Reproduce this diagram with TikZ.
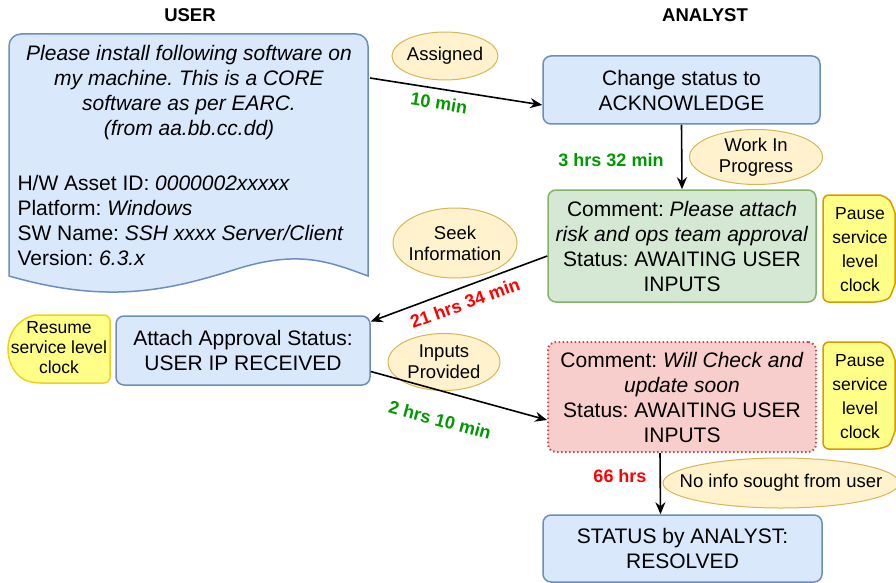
\documentclass[tikz,border=0pt]{standalone}
\usepackage{fontspec}
\setmainfont{Liberation Sans}
\usetikzlibrary{shapes.geometric,arrows.meta,calc}
\definecolor{lblue}{HTML}{DAE8FC}
\definecolor{bblue}{HTML}{6C8EBF}
\definecolor{lgreen}{HTML}{D5E8D4}
\definecolor{bgreen}{HTML}{82B366}
\definecolor{lred}{HTML}{F8CECC}
\definecolor{bred}{HTML}{B85450}
\definecolor{ellfill}{HTML}{FFF2CC}
\definecolor{ellstroke}{HTML}{D6B656}
\definecolor{yfill}{HTML}{FFFF88}
\definecolor{ystroke}{HTML}{D79B00}
\definecolor{ystroke2}{HTML}{EED21E}
\definecolor{tgreen}{HTML}{009900}
\definecolor{tred}{HTML}{FF0000}
\frenchspacing
\newcommand{\bigtxt}{\fontsize{21}{25}\selectfont}
\newcommand{\midtxt}{\fontsize{18.5}{21}\selectfont}
\newcommand{\smalltxt}{\fontsize{17.5}{24}\selectfont}
\newcommand{\smalltxtb}{\fontsize{17.5}{20}\selectfont}
\newcommand{\lbltxt}{\fontsize{18}{20}\selectfont\bfseries}
\tikzset{
  box/.style={draw=bblue, fill=lblue, rounded corners=8pt, line width=1.5pt, align=center, font=\bigtxt, inner sep=0pt},
  ell/.style={ellipse, draw=ellstroke, fill=ellfill, line width=1pt, inner sep=0pt},
  elltxt/.style={font=\midtxt, align=center, inner sep=0pt},
  conn/.style={-{Stealth[length=12pt,width=10pt]}, line width=1.6pt, black},
  glbl/.style={font=\lbltxt, text=tgreen, inner sep=1pt},
  rlbl/.style={font=\lbltxt, text=tred, inner sep=1pt},
  clocktxt/.style={font=\smalltxt, align=center},
}
\begin{document}
\begin{tikzpicture}[x=1pt,y=-1pt]
\useasboundingbox (0,0) rectangle (896,583);
% headers
\node[font=\fontsize{18.5}{20}\selectfont\bfseries] (hu) at (190,15) {USER};
\node[font=\fontsize{18.5}{20}\selectfont\bfseries] (ha) at (705,15) {ANALYST};
% user document shape
\draw[draw=bblue, fill=lblue, line width=1.5pt]
  (9,276) -- (9,46) [rounded corners=12pt] -- (9,34) -- (368,34) [sharp corners] -- (368,46) -- (368,276)
  .. controls (330,262) and (300,250) .. (240,268)
  .. controls (170,290) and (110,305) .. (9,276) -- cycle;
\node[minimum width=359, minimum height=262, inner sep=0] (user) at (188.5,160) {};
\node[font=\bigtxt\itshape, align=center] (ureq) at (189,93) {Please install following software on\\my machine. This is a CORE\\software as per EARC.\\(from aa.bb.cc.dd)};
\node[font=\bigtxt, align=left, anchor=west] (uinfo) at (14,220) {H/W Asset ID: \textit{0000002xxxxx}\\Platform: \textit{Windows}\\SW Name: \textit{SSH xxxx Server/Client}\\Version: \textit{6.3.x}};
% analyst boxes
\node[box, minimum width=277, minimum height=68] (change) at (681.5,90) {Change status to\\ACKNOWLEDGE};
\node[box, draw=bgreen, fill=lgreen, minimum width=268, minimum height=112] (green) at (682,246) {Comment: \textit{Please attach}\\\textit{risk and ops team approval}\\Status: AWAITING USER\\INPUTS};
\node[box, minimum width=254, minimum height=69] (attach) at (243,350.5) {Attach Approval Status:\\USER IP RECEIVED};
\node[box, draw=bred, fill=lred, line width=2pt, dash pattern=on 1.5pt off 2.5pt, minimum width=268, minimum height=110] (pink) at (682,397) {Comment: \textit{Will Check and}\\\textit{update soon}\\Status: AWAITING USER\\INPUTS};
\node[box, minimum width=279, minimum height=67] (resolved) at (682.5,548.5) {STATUS by ANALYST:\\RESOLVED};
% clock shapes
\draw[draw=ystroke, fill=yfill, line width=1.5pt, rounded corners=6pt]
  (880,195) -- (823,195) -- (823,302) -- (880,302) [sharp corners]
  .. controls (890,298) .. (895,284) -- (895,213) .. controls (890,199) .. (880,195);
\node[clocktxt] (pause1) at (860,250) {Pause\\service\\level\\clock};
\draw[draw=ystroke, fill=yfill, line width=1.5pt, rounded corners=6pt]
  (880,342) -- (823,342) -- (823,449) -- (880,449) [sharp corners]
  .. controls (890,445) .. (895,431) -- (895,360) .. controls (890,346) .. (880,342);
\node[clocktxt] (pause2) at (860,397) {Pause\\service\\level\\clock};
\draw[draw=ystroke2, fill=yfill, line width=1.5pt, rounded corners=6pt]
  (35,315) -- (110,315) -- (110,383) -- (35,383) [sharp corners]
  .. controls (15,378) and (8,362) .. (8,349) .. controls (8,336) and (15,320) .. (35,315);
\node[font=\smalltxtb, align=center] (resume) at (59,348) {Resume\\service level\\clock};
% ellipses
\node[ell, minimum width=106, minimum height=48] (assigned) at (445,56) {};
\node[elltxt] (assignedt) at (assigned.center) {Assigned};
\node[ell, minimum width=133, minimum height=55] (wip) at (756,157) {};
\node[elltxt] (wipt) at (wip.center) {Work In\\Progress};
\node[ell, minimum width=124, minimum height=70] (seek) at (455,243) {};
\node[elltxt] (seekt) at (seek.center) {Seek\\Information};
\node[ell, minimum width=112, minimum height=57] (inputs) at (444,362) {};
\node[elltxt] (inputst) at (inputs.center) {Inputs\\Provided};
\node[ell, minimum width=236, minimum height=50] (noinfo) at (781,483) {};
\node[elltxt] (noinfot) at (noinfo.center) {No info sought from user};
% connectors
\coordinate (uout) at (370,78);
\draw[conn] (uout) -- ([yshift=-15pt]change.west);
\draw[conn] (change.south) -- (green.north);
\draw[conn] ([yshift=-10pt]green.west) -- ([yshift=29pt]attach.east);
\draw[conn] ([yshift=-21pt]attach.east) -- ([yshift=-23pt]pink.west);
\draw[conn] ([xshift=-22pt]pink.south) -- ([xshift=-22pt]resolved.north);
% labels
\node[glbl, rotate=-9] (l1) at (439,103) {10 min};
\node[glbl] (l2) at (611,160) {3 hrs 32 min};
\node[rlbl, rotate=20] (l3) at (465,303) {21 hrs 34 min};
\node[glbl, rotate=-15] (l4) at (440,420) {2 hrs 10 min};
\node[rlbl] (l5) at (620,476) {66 hrs};
\end{tikzpicture}
\end{document}
